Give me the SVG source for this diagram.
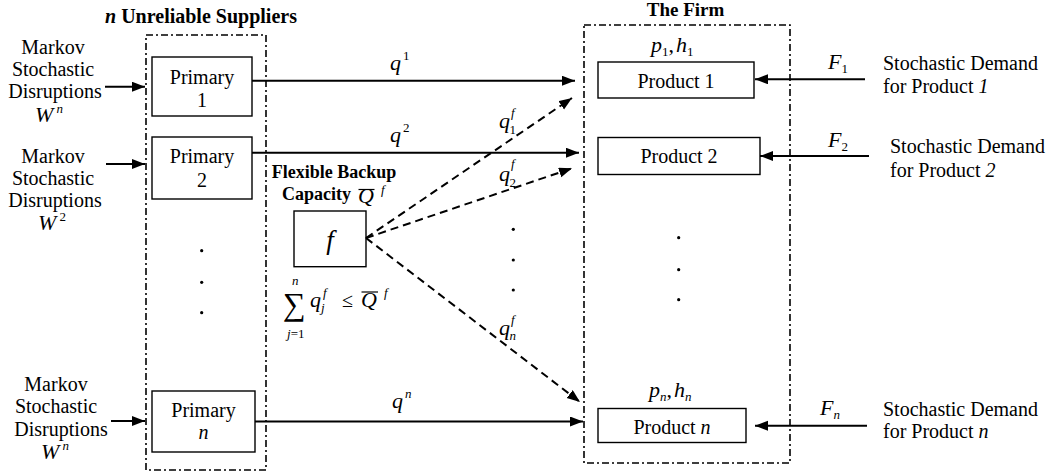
<svg xmlns="http://www.w3.org/2000/svg" width="1050" height="472" viewBox="0 0 1050 472">
<style>
text{font-family:"Liberation Serif","Times New Roman",serif;fill:#000}
.t{font-size:20px}
.b{font-size:18px;font-weight:bold}
.m{font-size:22px;font-style:italic}
.s{font-size:13px}
.box{fill:#fff;stroke:#000;stroke-width:1.4}
.grp{fill:none;stroke:#000;stroke-width:1.6;stroke-dasharray:7 3 2 3}
.arr{stroke:#000;stroke-width:2;fill:none;marker-end:url(#ah)}
.dash{stroke:#000;stroke-width:2;fill:none;stroke-dasharray:8 5;marker-end:url(#ah)}
.dot{fill:#000}
</style>
<defs>
<marker id="ah" markerUnits="userSpaceOnUse" markerWidth="14" markerHeight="12" refX="13" refY="5" orient="auto">
<path d="M0,0 L13,5 L0,10 z" fill="#000"/>
</marker>
</defs>
<rect width="1050" height="472" fill="#fff"/>

<g id="suppliers">
<rect class="grp" x="146" y="35" width="120" height="435"/>
<text class="b" x="201" y="22.7" text-anchor="middle" style="font-size:20px"><tspan font-style="italic">n</tspan> Unreliable Suppliers</text>
</g>

<g id="firm">
<rect class="grp" x="584" y="25" width="206" height="438"/>
<text class="b" x="685.5" y="16" text-anchor="middle" style="font-size:19px">The Firm</text>
</g>

<g id="disruption1">
<text class="t" x="53" y="54.3" text-anchor="middle">Markov</text>
<text class="t" x="53" y="76" text-anchor="middle">Stochastic</text>
<text class="t" x="55" y="98.3" text-anchor="middle">Disruptions</text>
<text class="m" x="49" y="122" text-anchor="middle">W<tspan class="s" dx="3" dy="-9">n</tspan></text>
</g>
<g id="disruption2">
<text class="t" x="53" y="163.3" text-anchor="middle">Markov</text>
<text class="t" x="53" y="185" text-anchor="middle">Stochastic</text>
<text class="t" x="55" y="206.7" text-anchor="middle">Disruptions</text>
<text class="m" x="52" y="230" text-anchor="middle">W<tspan class="s" dx="3" dy="-9" font-style="normal">2</tspan></text>
</g>
<g id="disruptionN">
<text class="t" x="56" y="390.7" text-anchor="middle">Markov</text>
<text class="t" x="56" y="413.3" text-anchor="middle">Stochastic</text>
<text class="t" x="61" y="436" text-anchor="middle">Disruptions</text>
<text class="m" x="55" y="459" text-anchor="middle">W<tspan class="s" dx="3" dy="-9">n</tspan></text>
</g>

<g id="primary1">
<rect class="box" x="152" y="57" width="100" height="59"/>
<text class="t" x="202" y="83.5" text-anchor="middle">Primary</text>
<text class="t" x="202" y="106.5" text-anchor="middle">1</text>
</g>
<g id="primary2">
<rect class="box" x="152" y="137" width="100" height="62"/>
<text class="t" x="202" y="163.3" text-anchor="middle">Primary</text>
<text class="t" x="202" y="186.5" text-anchor="middle">2</text>
</g>
<g id="primaryN">
<rect class="box" x="152" y="391" width="103" height="61"/>
<text class="t" x="203.5" y="416.5" text-anchor="middle">Primary</text>
<text class="t" x="203.5" y="439.3" text-anchor="middle" font-style="italic">n</text>
</g>
<g id="supplierDots">
<circle class="dot" cx="201.7" cy="250.7" r="1.6"/>
<circle class="dot" cx="201.7" cy="282.3" r="1.6"/>
<circle class="dot" cx="201.7" cy="312.7" r="1.6"/>
</g>

<g id="backup">
<text class="b" x="334" y="177.7" text-anchor="middle">Flexible Backup</text>
<text class="b" x="282" y="200">Capacity</text>
<text class="m" x="358" y="203">Q</text>
<line x1="358.5" y1="189.5" x2="374.5" y2="189.5" stroke="#000" stroke-width="1.2"/>
<text class="m s" x="381" y="194">f</text>
<rect class="box" x="294" y="211" width="72" height="55.7"/>
<text class="m" x="330" y="249" text-anchor="middle" style="font-size:27px">f</text>
</g>

<g id="constraint">
<text x="283" y="315" style="font-size:32px">∑</text>
<text class="m s" x="292" y="285">n</text>
<text class="s" x="287" y="338"><tspan font-style="italic">j</tspan>=1</text>
<text class="m" x="310" y="306.7">q</text>
<text class="m s" x="321" y="312">j</text>
<text class="m s" x="323" y="297">f</text>
<text class="t" x="342" y="307">≤</text>
<text class="m" x="361" y="307">Q</text>
<line x1="361.5" y1="292" x2="378" y2="292" stroke="#000" stroke-width="1.2"/>
<text class="m s" x="384" y="297">f</text>
</g>

<g id="product1">
<text class="m" x="651" y="51.7">p<tspan class="s" dy="4" font-style="normal">1</tspan><tspan dy="-4" font-style="normal">,</tspan><tspan dx="2">h</tspan><tspan class="s" dy="4" font-style="normal">1</tspan></text>
<rect class="box" x="598" y="62" width="156" height="36"/>
<text class="t" x="676" y="88.3" text-anchor="middle">Product 1</text>
</g>
<g id="product2">
<rect class="box" x="598" y="137.5" width="162" height="37"/>
<text class="t" x="679" y="163.3" text-anchor="middle">Product 2</text>
</g>
<g id="productN">
<text class="m" x="649" y="396.7">p<tspan class="s" dy="4">n</tspan><tspan dy="-4" font-style="normal">,</tspan><tspan dx="2">h</tspan><tspan class="s" dy="4">n</tspan></text>
<rect class="box" x="598" y="408.5" width="148" height="34"/>
<text class="t" x="672" y="434.3" text-anchor="middle">Product <tspan font-style="italic">n</tspan></text>
</g>
<g id="productDots">
<circle class="dot" cx="678.7" cy="237.7" r="1.6"/>
<circle class="dot" cx="678.7" cy="269.7" r="1.6"/>
<circle class="dot" cx="678.7" cy="299.7" r="1.6"/>
</g>

<g id="demand1">
<text class="m" x="828" y="69">F<tspan class="s" dy="4" font-style="normal">1</tspan></text>
<text class="t" x="883" y="70">Stochastic Demand</text>
<text class="t" x="883" y="93">for Product <tspan font-style="italic">1</tspan></text>
</g>
<g id="demand2">
<text class="m" x="828" y="146.7">F<tspan class="s" dy="4" font-style="normal">2</tspan></text>
<text class="t" x="890" y="153.3">Stochastic Demand</text>
<text class="t" x="890" y="176.7">for Product <tspan font-style="italic">2</tspan></text>
</g>
<g id="demandN">
<text class="m" x="820" y="415">F<tspan class="s" dy="4">n</tspan></text>
<text class="t" x="883" y="416">Stochastic Demand</text>
<text class="t" x="883" y="438">for Product <tspan font-style="italic">n</tspan></text>
</g>

<g id="flowLabels">
<text class="m" x="390" y="69.5">q<tspan class="s" dx="2" dy="-10" font-style="normal">1</tspan></text>
<text class="m" x="390" y="141.7">q<tspan class="s" dx="2" dy="-10" font-style="normal">2</tspan></text>
<text class="m" x="392" y="408">q<tspan class="s" dx="2" dy="-10">n</tspan></text>
<text class="m" x="499" y="128">q</text>
<text class="s" x="509.5" y="133.5">1</text>
<text class="m s" x="511" y="117">f</text>
<text class="m" x="499" y="181">q</text>
<text class="s" x="509.5" y="186.5">2</text>
<text class="m s" x="511" y="168">f</text>
<text class="m" x="499" y="335">q</text>
<text class="m s" x="509.5" y="340">n</text>
<text class="m s" x="511" y="324">f</text>
</g>
<g id="flowDots">
<circle class="dot" cx="513.3" cy="229.3" r="1.6"/>
<circle class="dot" cx="513.3" cy="260" r="1.6"/>
<circle class="dot" cx="513.3" cy="290" r="1.6"/>
</g>

<g id="connectors">
<line class="arr" x1="105" y1="86.7" x2="145" y2="86.7"/>
<line class="arr" x1="106" y1="164" x2="145" y2="164"/>
<line class="arr" x1="111" y1="421" x2="145" y2="421"/>
<line class="arr" x1="252" y1="80.7" x2="575" y2="80.7"/>
<line class="arr" x1="252" y1="152.7" x2="579" y2="152.7"/>
<line class="arr" x1="255" y1="421.5" x2="583" y2="421.5"/>
<line class="dash" x1="366" y1="238" x2="572" y2="98"/>
<line class="dash" x1="366" y1="238" x2="572" y2="168.3"/>
<line class="dash" x1="366" y1="238" x2="580" y2="402"/>
<line class="arr" x1="865" y1="79.3" x2="755" y2="79.3"/>
<line class="arr" x1="869" y1="156" x2="760" y2="156"/>
<line class="arr" x1="867" y1="425.7" x2="755" y2="425.7"/>
</g>
</svg>
